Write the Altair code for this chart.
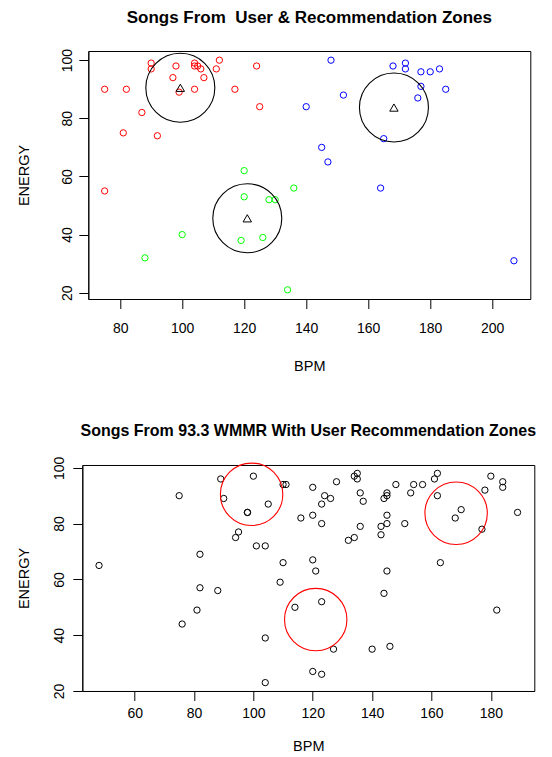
import altair as alt
import pandas as pd

# ---- top panel: user songs grouped into three zones ----
red_bpm = [75, 75, 81, 82, 87, 90, 90, 92, 97, 98, 99, 104, 104, 104, 105, 106, 107, 111, 112, 117, 124, 125]
red_energy = [90, 55, 75, 90, 82, 99, 97, 74, 94, 98, 89, 90, 99, 98, 98, 97, 94, 97, 100, 90, 98, 84]
blue_bpm = [140, 145, 147, 148, 152, 164, 165, 168, 172, 172, 176, 177, 177, 180, 183, 185, 207]
blue_energy = [84, 70, 65, 100, 88, 56, 73, 98, 99, 97, 87, 96, 91, 96, 97, 90, 31]
green_bpm = [88, 100, 119, 120, 120, 126, 128, 130, 134, 136]
green_energy = [32, 40, 38, 62, 53, 39, 52, 52, 21, 56]

# zone centres (triangles / circles)
center_bpm = [99.4, 168.3, 121.0]
center_energy = [90.5, 83.7, 45.6]

# ---- bottom panel: 93.3 WMMR songs ----
wmmr_bpm = [48, 75, 76, 81, 82, 82, 88, 89, 90, 94, 95, 98, 98, 100, 101, 104, 104, 104, 105, 109,
            110, 110, 111, 114, 116, 120, 120, 120, 120, 121, 123, 123, 123, 123, 124, 126, 127, 128,
            132, 134, 134, 135, 135, 136, 136, 137, 140, 143, 143, 144, 144, 145, 145, 145, 145, 145,
            146, 148, 151, 153, 154, 157, 161, 162, 162, 163, 168, 170, 177, 178, 180, 182, 184, 184, 189]
wmmr_energy = [65, 90, 44, 49, 69, 57, 56, 96, 89, 75, 77, 84, 84, 97, 72, 72, 39, 23, 87, 59,
               66, 94, 94, 50, 82, 93, 83, 67, 27, 63, 80, 87, 52, 26, 90, 89, 35, 95,
               74, 75, 97, 98, 96, 91, 79, 88, 35, 79, 76, 89, 55, 90, 91, 83, 80, 63,
               36, 94, 80, 91, 94, 94, 96, 98, 90, 66, 82, 85, 78, 92, 97, 49, 95, 93, 84]

zones = ["red", "blue", "green"]
zone_colors = ["#FF0000", "#0000FF", "#00FF00"]

top_x_domain = [69.72, 212.28]
top_y_domain = [17.84, 103.16]
bot_x_domain = [42.36, 194.64]
bot_y_domain = [20.0, 101.0]

top_x_ticks = [80, 100, 120, 140, 160, 180, 200]
bot_x_ticks = [60, 80, 100, 120, 140, 160, 180]
y_ticks = [20, 40, 60, 80, 100]

top_df = pd.concat([
    pd.DataFrame({"bpm": red_bpm, "energy": red_energy, "zone": "red"}),
    pd.DataFrame({"bpm": blue_bpm, "energy": blue_energy, "zone": "blue"}),
    pd.DataFrame({"bpm": green_bpm, "energy": green_energy, "zone": "green"}),
], ignore_index=True)
centers_df = pd.DataFrame({"bpm": center_bpm, "energy": center_energy})
wmmr_df = pd.DataFrame({"bpm": wmmr_bpm, "energy": wmmr_energy})

FONT = "Liberation Sans"


def x_enc(domain, ticks, lp, tp):
    return alt.X("bpm:Q", scale=alt.Scale(domain=domain, nice=False, zero=False),
                 axis=alt.Axis(values=ticks, title="BPM", labelPadding=lp, titlePadding=tp))


def y_enc(domain, lp, tp):
    return alt.Y("energy:Q", scale=alt.Scale(domain=domain, nice=False, zero=False),
                 axis=alt.Axis(values=y_ticks, title="ENERGY", labelAngle=-90, labelAlign="center",
                               labelBaseline="bottom", labelPadding=lp, titlePadding=tp))


def spacer():
    # invisible 1px cell so that each panel's plot area starts at its own left extent
    return alt.Chart(pd.DataFrame({"v": [0]})).mark_rule(strokeWidth=0, opacity=0).encode(
        x=alt.value(0), y=alt.value(0), y2=alt.value(0)
    ).properties(width=1, height=1, view=alt.ViewBackground(stroke="transparent"))


# top chart
tx = x_enc(top_x_domain, top_x_ticks, 13, 24)
ty = y_enc(top_y_domain, 4.5, 28.5)
top_pts = alt.Chart(top_df).mark_point(shape="circle", size=40, strokeWidth=1, filled=False, opacity=1).encode(
    x=tx, y=ty,
    color=alt.Color("zone:N", scale=alt.Scale(domain=zones, range=zone_colors), legend=None),
)
top_rings = alt.Chart(centers_df).mark_point(shape="circle", size=4761, strokeWidth=1.1, filled=False,
                                             color="black", opacity=1).encode(x=tx, y=ty)
top_tri = alt.Chart(centers_df).mark_point(shape="triangle-up", size=70, strokeWidth=1, filled=False,
                                           color="black", opacity=1).encode(x=tx, y=ty)
top = alt.layer(top_pts, top_rings, top_tri).properties(
    width=442, height=248,
    title=alt.TitleParams("Songs From \u00a0User & Recommendation Zones", fontSize=17, font=FONT,
                          fontWeight="bold", anchor="middle", frame="group", offset=21.5, color="black"),
)

# bottom chart
bx = x_enc(bot_x_domain, bot_x_ticks, 6, 19)
by = y_enc(bot_y_domain, 6.3, 21.0)
bot_pts = alt.Chart(wmmr_df).mark_point(shape="circle", size=40, strokeWidth=1, filled=False,
                                        color="black", opacity=1).encode(x=bx, y=by)
bot_rings = alt.Chart(centers_df).mark_point(shape="circle", size=3894, strokeWidth=1.1, filled=False,
                                             color="#FF0000", opacity=1).encode(x=bx, y=by)
bottom = alt.layer(bot_pts, bot_rings).properties(
    width=452, height=226,
    title=alt.TitleParams("Songs From 93.3 WMMR With User Recommendation Zones", fontSize=16, font=FONT,
                          fontWeight="bold", anchor="middle", frame="group", offset=17, color="black"),
)

chart = alt.vconcat(
    alt.hconcat(spacer(), top, spacing=0),
    alt.hconcat(spacer(), bottom, spacing=0),
    spacing=48,
).configure(
    padding={"left": 4.3, "top": 0, "right": 5, "bottom": 5}
).configure_view(stroke="black", strokeWidth=1).configure_axis(
    grid=False, domainColor="black", tickColor="black", labelColor="black", titleColor="black",
    labelFont=FONT, titleFont=FONT, labelFontSize=14, titleFontSize=14.5, titleFontWeight="normal",
    tickSize=9.5, tickWidth=1, domainWidth=1,
)

chart.save("out.html", embed_options={"renderer": "svg", "actions": False})
